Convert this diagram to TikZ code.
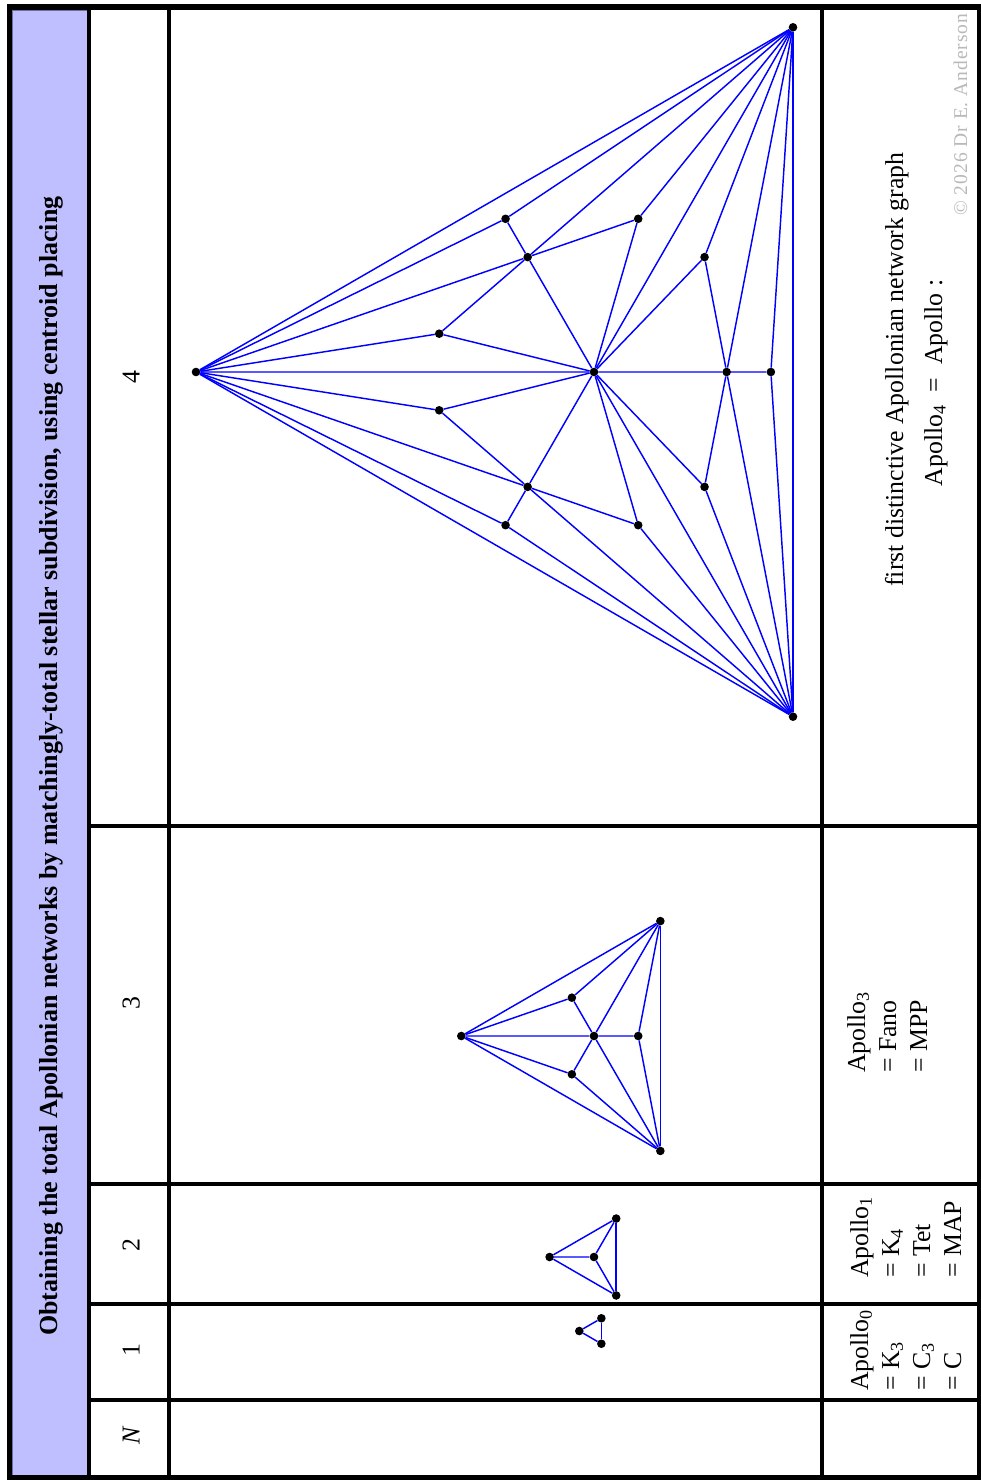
\documentclass[tikz,border=0pt]{standalone}
\usepackage{fontspec}
\setmainfont{Liberation Serif}
\newfontfamily\copyfont[LetterSpace=5]{Liberation Serif}
\usetikzlibrary{calc}
\definecolor{headfill}{RGB}{191,191,255}
\definecolor{headline}{RGB}{110,110,160}
\definecolor{edgeblue}{RGB}{0,0,255}
\definecolor{copygray}{RGB}{185,185,185}

% one Apollonian face subdivision: new vertex #2 in face (#3,#4,#5) of graph #1
\newcommand{\apface}[5]{%
  \node[vtx] (#1#2) at (barycentric cs:#1#3=1,#1#4=1,#1#5=1) {};
  \draw[gedge] (#1#2) -- (#1#3);
  \draw[gedge] (#1#2) -- (#1#4);
  \draw[gedge] (#1#2) -- (#1#5);
}
% #1 prefix, #2 cx, #3 cy, #4 R, #5 level
\newcommand{\apgraph}[5]{%
  \node[vtx] (#1A) at ({#2-#4},{#3}) {};
  \node[vtx] (#1B) at ({#2+0.5*#4},{#3-0.8660254*#4}) {};
  \node[vtx] (#1C) at ({#2+0.5*#4},{#3+0.8660254*#4}) {};
  \draw[gedge] (#1A) -- (#1B);
  \draw[gedge] (#1B) -- (#1C);
  \draw[gedge] (#1C) -- (#1A);
  \ifnum#5>1
    \apface{#1}{O}{A}{B}{C}%
  \fi
  \ifnum#5>2
    \apface{#1}{D1}{A}{B}{O}%
    \apface{#1}{D2}{A}{C}{O}%
    \apface{#1}{D3}{B}{C}{O}%
  \fi
  \ifnum#5>3
    \apface{#1}{E1}{A}{B}{D1}%
    \apface{#1}{E2}{A}{O}{D1}%
    \apface{#1}{E3}{B}{O}{D1}%
    \apface{#1}{E4}{A}{C}{D2}%
    \apface{#1}{E5}{A}{O}{D2}%
    \apface{#1}{E6}{C}{O}{D2}%
    \apface{#1}{E7}{B}{C}{D3}%
    \apface{#1}{E8}{B}{O}{D3}%
    \apface{#1}{E9}{C}{O}{D3}%
  \fi
}

\begin{document}
\begin{tikzpicture}[x=1pt,y=-1pt,
  vtx/.style={circle,fill=black,inner sep=0pt,minimum size=8.6pt},
  gedge/.style={draw=edgeblue,line width=1.45pt},
  gridline/.style={line width=4pt},
  lab/.style={rotate=90,anchor=base,inner sep=0pt,font=\fontsize{25.8}{31}\selectfont},
  cell/.style={rotate=90,anchor=north west,inner sep=0pt,align=left,font=\fontsize{25.8}{31}\selectfont}]

\useasboundingbox (0,0) rectangle (981,1480);
\fill[white] (0,0) rectangle (981,1480);

% table
\fill[headfill,draw=headline,line width=0.6pt] (12,10) rectangle (87,1475);
\draw[gridline] (89,7) -- (89,1478);
\draw[gridline] (169,7) -- (169,1478);
\draw[gridline] (822,7) -- (822,1478);
\foreach \yy in {826,1184,1304,1400} \draw[gridline] (89,\yy) -- (979,\yy);
\draw[line width=5.5pt] (9.5,7) rectangle (979.5,1478);

% title
\node[rotate=90,anchor=base,inner sep=0pt,font=\bfseries\fontsize{26}{30}\selectfont] (title) at (57,766)
  {Obtaining the total Apollonian networks by matchingly-total stellar subdivision, using centroid placing};

% N column
\node[lab,font=\itshape\fontsize{25.8}{31}\selectfont] (hN) at (139.5,1436) {N};
\node[lab] (h1) at (139.5,1350) {1};
\node[lab] (h2) at (139.5,1245) {2};
\node[lab] (h3) at (139.5,1003) {3};
\node[lab] (h4) at (139.5,377) {4};

% graphs
\apgraph{gA}{594}{1331}{14.7}{1}
\apgraph{gB}{594}{1257}{44.4}{2}
\apgraph{gC}{594}{1036}{132.7}{3}
\apgraph{gD}{594}{372}{398}{4}

% bottom row texts
\node[cell] (t1) at (850,1391) {Apollo\textsubscript{0}\\= K\textsubscript{3}\\= C\textsubscript{3}\\= C};
\node[cell] (t2) at (850,1278) {Apollo\textsubscript{1}\\= K\textsubscript{4}\\= Tet\\= MAP};
\node[cell] (t3) at (847,1073) {Apollo\textsubscript{3}\\= Fano\\= MPP};
\node[lab] (t4a) at (903,369.5) {first distinctive Apollonian network graph};
\node[lab] (t4b) at (942,383) {Apollo\textsubscript{4}\enspace=\enspace Apollo :};
\node[rotate=90,anchor=base west,inner sep=0pt,text=copygray,font=\copyfont\fontsize{19.5}{22}\selectfont] (copy) at (967,216) {© 2026 Dr E. Anderson};
\end{tikzpicture}
\end{document}
